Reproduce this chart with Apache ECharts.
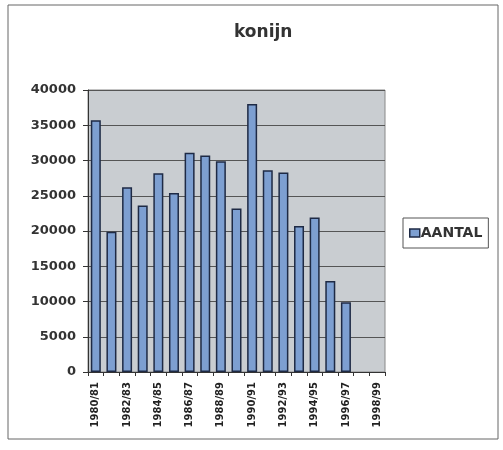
<!DOCTYPE html>
<html>
<head>
<meta charset="utf-8">
<script src="https://cdn.jsdelivr.net/npm/echarts@6/dist/echarts.min.js"></script>
<style>
  html, body { margin: 0; padding: 0; background: #fff; }
  #Chart { width: 503px; height: 450px; }
</style>
</head>
<body>
<div id="Chart"></div>
<script>
const seizoenen = [
  "1980/81", "1981/82", "1982/83", "1983/84", "1984/85", "1985/86", "1986/87",
  "1987/88", "1988/89", "1989/90", "1990/91", "1991/92", "1992/93", "1993/94",
  "1994/95", "1995/96", "1996/97", "1997/98", "1998/99"
]
const aantal = [
  35700, 19900, 26200, 23600, 28200, 25400, 31100, 30700, 29900, 23200,
  38000, 28600, 28300, 20700, 21900, 12900, 9900, null, null
]
const yTicks = { min: 0, max: 40000, step: 5000 }

const chart = echarts.init(document.getElementById("Chart"), null, { renderer: "canvas" })
const font = "'DejaVu Sans', Arial, sans-serif"

let option = {
  animation: false,
  backgroundColor: "#fff",
  textStyle: { fontFamily: font },
  graphic: [
    {
      type: "rect",
      shape: { x: 8, y: 5, width: 490, height: 434 },
      style: { fill: "none", stroke: "#666", lineWidth: 1 },
      z: -1
    }
  ],
  title: {
    text: "konijn",
    left: 229,
    top: 19,
    textStyle: { fontSize: 17, fontWeight: "bold", color: "#333", fontFamily: font }
  },
  legend: {
    left: 403,
    top: 218,
    orient: "vertical",
    padding: [8, 6, 8, 6],
    borderColor: "#555",
    borderWidth: 1,
    icon: "rect",
    itemWidth: 10,
    itemHeight: 8,
    itemGap: 4,
    itemStyle: { borderColor: "#1e2a45", borderWidth: 1.5 },
    textStyle: { fontSize: 14, fontWeight: "bold", color: "#333", fontFamily: font, padding: [0, 0, 0, -4] },
    data: ["AANTAL"]
  },
  grid: {
    left: 88,
    right: 118,
    top: 90,
    bottom: 78,
    show: true,
    backgroundColor: "#c9cdd1",
    borderColor: "#888",
    borderWidth: 1
  },
  xAxis: {
    type: "category",
    data: seizoenen,
    axisLine: { lineStyle: { color: "#333", width: 1 } },
    axisTick: { show: true, interval: 0, length: 4, lineStyle: { color: "#333" } },
    axisLabel: {
      rotate: 90,
      interval: 1,
      fontSize: 10,
      fontWeight: "bold",
      color: "#222",
      margin: 10
    }
  },
  yAxis: {
    type: "value",
    min: yTicks.min,
    max: yTicks.max,
    interval: yTicks.step,
    axisLine: { show: true, lineStyle: { color: "#333" } },
    axisTick: { show: true, length: 5, lineStyle: { color: "#333" } },
    axisLabel: {
      fontSize: 13,
      fontWeight: "bold",
      color: "#333",
      margin: 12,
      formatter: (v) => String(v)
    },
    splitLine: { lineStyle: { color: "#555", width: 1 } }
  },
  series: [
    {
      name: "AANTAL",
      type: "bar",
      barCategoryGap: "36%",
      itemStyle: {
        color: "#7d9fd1",
        borderColor: "#1e2a45",
        borderWidth: 1.5
      },
      data: aantal
    }
  ]
}
chart.setOption(option)
</script>
</body>
</html>
